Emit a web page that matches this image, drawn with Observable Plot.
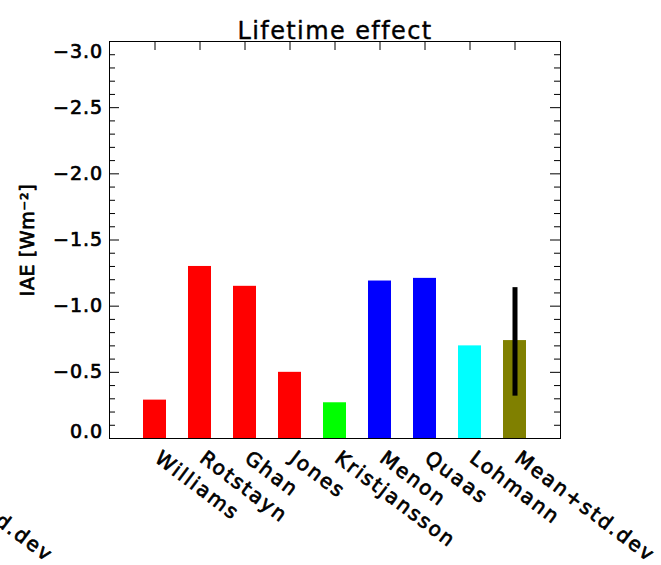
<!DOCTYPE html>
<html><head><meta charset="utf-8">
<script src="https://cdn.jsdelivr.net/npm/d3@7"></script>
<script src="https://cdn.jsdelivr.net/npm/@observablehq/plot@0.6"></script>
<style>body{margin:0;background:#fff} svg{display:block}</style>
</head><body><div id="chart"></div>
<script>
const models = ["Williams","Rotstayn","Ghan","Jones","Kristjansson","Menon","Quaas","Lohmann","Mean+std.dev"];
const values = [-0.29,-1.30,-1.15,-0.50,-0.27,-1.19,-1.21,-0.70,-0.74];
const colors = ["#ff0000","#ff0000","#ff0000","#ff0000","#00ff00","#0000ff","#0000ff","#00ffff","#808000"];
const errModel = "Mean+std.dev";
const errLow = -0.32, errHigh = -1.14;
const majorTicks = [0,-0.5,-1.0,-1.5,-2.0,-2.5,-3.0];
const minorTicks = [-0.1,-0.2,-0.3,-0.4,-0.6,-0.7,-0.8,-0.9,-1.1,-1.2,-1.3,-1.4,-1.6,-1.7,-1.8,-1.9,-2.1,-2.2,-2.3,-2.4,-2.6,-2.7,-2.8,-2.9];
const title = "Lifetime effect";
const yLabel = "IAE [Wm\u207B\u00B2]";

const data = models.map((m,i)=>({model:m, value:values[i], color:colors[i]}));
const fmt = d => d.toFixed(1).replace("-", "\u2212");
const W = 661, H = 565, mL = 109, mR = 101, mT = 41, mB = 127;
const fw = W - mL - mR, fh = H - mT - mB;
const font = "DejaVu Sans, sans-serif";
const ts = {stroke: "black", strokeWidth: 0.7, fill: "black"};

const middleMajors = majorTicks.filter(d => d !== 0 && d !== -3.0);
const chart = Plot.plot({
  width: W, height: H,
  marginLeft: mL, marginRight: mR, marginTop: mT, marginBottom: mB,
  style: {fontFamily: font, color: "black", background: "white"},
  x: {domain: models, axis: null, paddingInner: 0.479, paddingOuter: 0.7395},
  y: {domain: [0, -3], axis: null},
  color: {type: "identity"},
  marks: [
    Plot.tickX(models, {x: d => d, insetTop: fh - 9, stroke: "black"}),
    Plot.barY(data, {x: "model", y: "value", fill: "color"}),
    Plot.ruleX([{model: errModel, lo: errLow, hi: errHigh}], {x: "model", y1: "lo", y2: "hi", stroke: "black", strokeWidth: 5}),
    Plot.tickX(models, {x: d => d, insetBottom: fh - 9, stroke: "black"}),
    Plot.tickY(majorTicks, {y: d => d, insetRight: fw - 10, stroke: "black"}),
    Plot.tickY(minorTicks, {y: d => d, insetRight: fw - 6, stroke: "black"}),
    Plot.tickY(majorTicks, {y: d => d, insetLeft: fw - 10, stroke: "black"}),
    Plot.tickY(minorTicks, {y: d => d, insetLeft: fw - 6, stroke: "black"}),
    Plot.frame({stroke: "black", strokeWidth: 1}),
    Plot.text(middleMajors, {y: d => d, text: fmt, frameAnchor: "left", textAnchor: "end", dx: -6.3, fontSize: 19, ...ts}),
    Plot.text([-3.0], {y: d => d, text: fmt, frameAnchor: "left", textAnchor: "end", dx: -6.3, dy: 10.5, fontSize: 19, ...ts}),
    Plot.text([0], {y: d => d, text: fmt, frameAnchor: "left", textAnchor: "end", dx: -6.3, dy: -7, fontSize: 19, ...ts}),
    Plot.text(models, {x: d => d, text: d => d, frameAnchor: "bottom", rotate: 37, textAnchor: "start", lineAnchor: "top", dx: 7, dy: 11, fontSize: 20, ...ts}),
    Plot.text([errModel], {x: d => d, text: d => d, frameAnchor: "bottom", rotate: 37, textAnchor: "start", lineAnchor: "top", dx: 7 - 602, dy: 11, fontSize: 20, ...ts}),
    Plot.text([yLabel], {text: d => d, frameAnchor: "left", textAnchor: "middle", rotate: -90, dx: -82, fontSize: 19, ...ts}),
    Plot.text([title], {text: d => d, frameAnchor: "top", dy: -20, fontSize: 24, ...ts, strokeWidth: 0.4})
  ]
});
document.getElementById("chart").append(chart);
const groups = chart.querySelectorAll('g[aria-label="text"]');
const spacing = [1, 1, 1, 2, 2, 0.6, 1.4];
groups.forEach((g, i) => g.setAttribute("letter-spacing", spacing[i] + "px"));
</script>
</body></html>
